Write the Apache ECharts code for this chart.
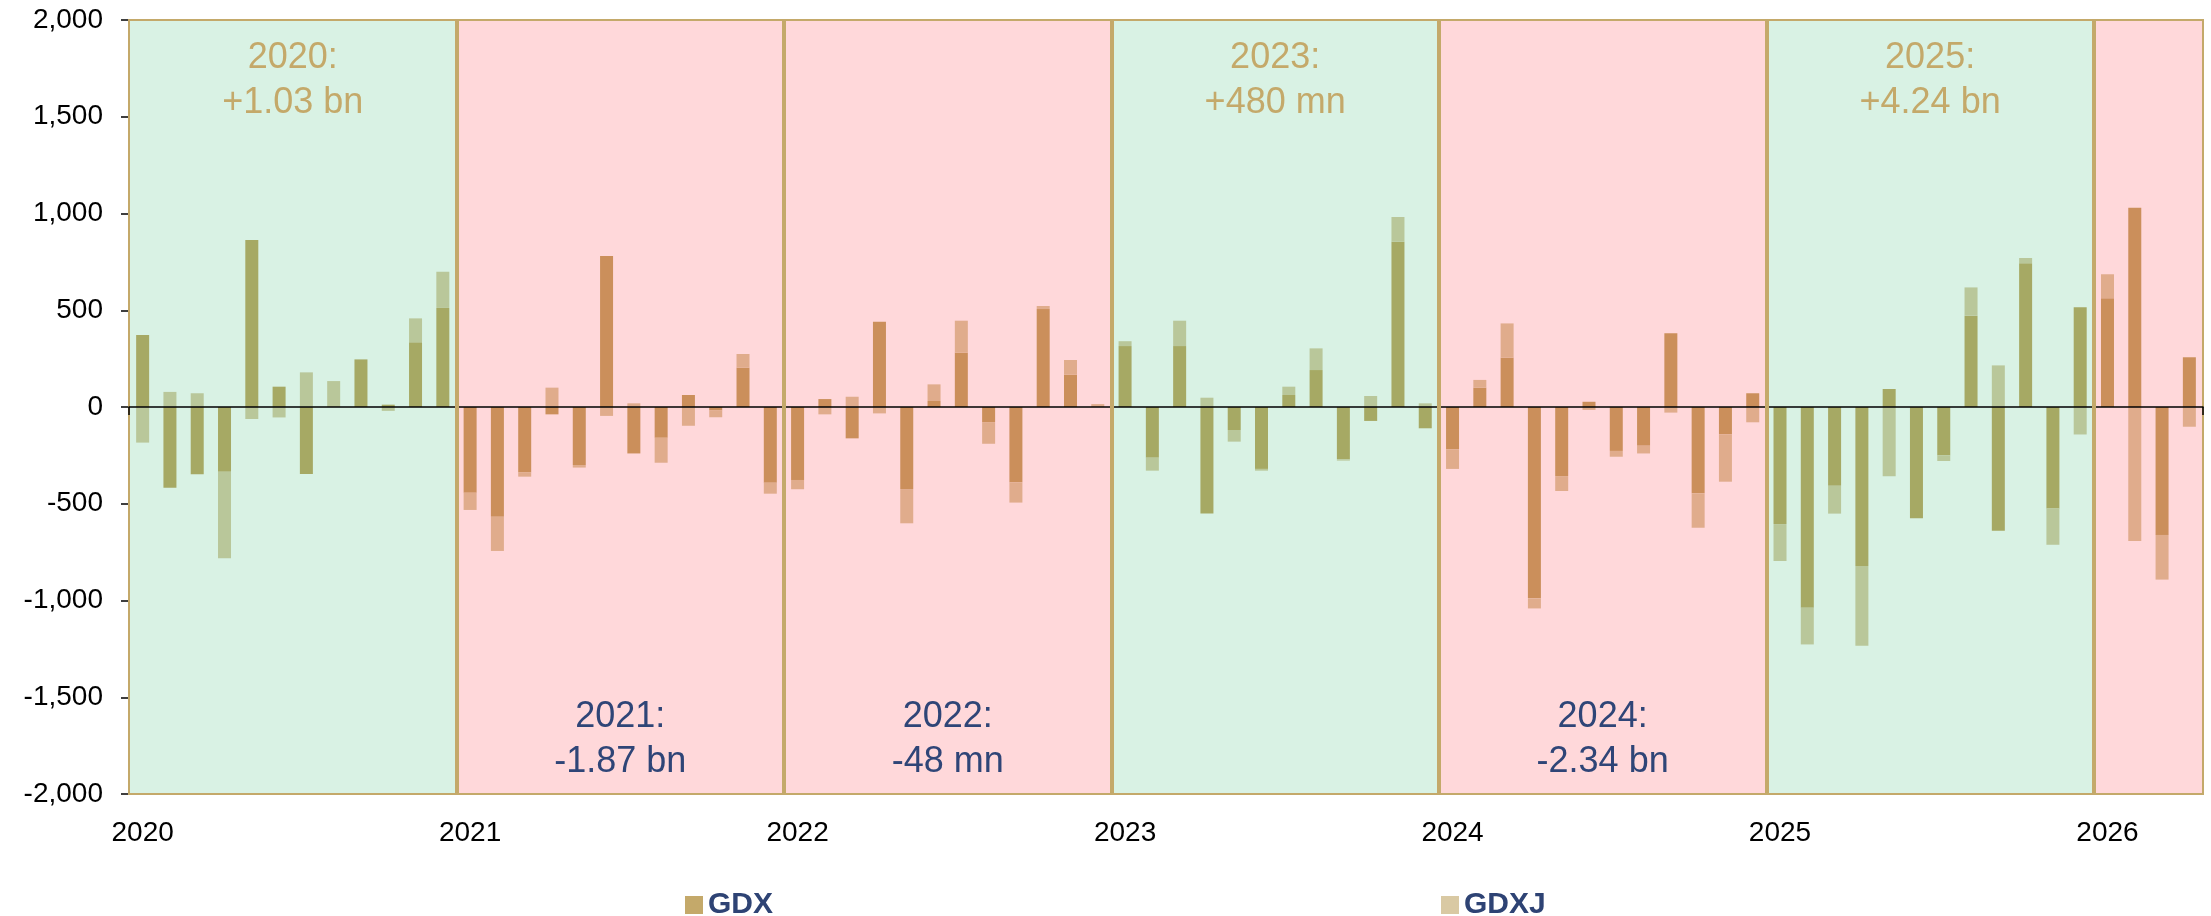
<!DOCTYPE html>
<html>
<head>
<meta charset="utf-8">
<script src="https://cdn.jsdelivr.net/npm/echarts@6/dist/echarts.min.js"></script>
<style>
  html, body { margin: 0; padding: 0; background: #fff; }
  #chart { width: 2211px; height: 916px; }
</style>
</head>
<body>
<div id="chart"></div>
<script>
// years shown, their tone (inflow/outflow colouring) and the year notes
const years = [2020, 2021, 2022, 2023, 2024, 2025, 2026]
const monthsInYear = [12, 12, 12, 12, 12, 12, 4]
const yearTone = ['up', 'down', 'down', 'up', 'down', 'up', 'down']
const yearNotes = ['2020:\n+1.03 bn', '2021:\n-1.87 bn', '2022:\n-48 mn', '2023:\n+480 mn', '2024:\n-2.34 bn', '2025:\n+4.24 bn', '']
const monthNames = ['Jan', 'Feb', 'Mar', 'Apr', 'May', 'Jun', 'Jul', 'Aug', 'Sep', 'Oct', 'Nov', 'Dec']

// monthly flows, USD mn
const gdx = [
  372, -417, -348, -334, 863, 105, -346, 0, 246, 12, 334, 512, // 2020
  -443, -567, -339, -38, -300, 780, -240, -159, 62, -18, 203, -391, // 2021
  -377, 41, -162, 441, -424, 31, 281, -78, -389, 506, 167, 0, // 2022
  315, -262, 315, -550, -119, -320, 62, 191, -270, -72, 854, -110, // 2023
  -219, 100, 255, -989, -357, 27, -227, -200, 381, -446, -141, 71, // 2024
  -605, -1037, -407, -822, 93, -575, -250, 472, -639, 743, -524, 515, // 2025
  562, 1030, -661, 257 // 2026
]
const gdxj = [
  -184, 78, 71, -448, -62, -54, 179, 134, 0, -20, 124, 187,
  -89, -177, -21, 100, -13, -46, 19, -129, -97, -35, 71, -57,
  -48, -38, 53, -33, -177, 86, 165, -112, -105, 16, 76, 15,
  25, -67, 131, 48, -60, -9, 43, 112, -7, 57, 128, 19,
  -101, 40, 177, -52, -77, -15, -30, -40, -29, -178, -245, -79,
  -191, -190, -144, -412, -358, 0, -29, 146, 215, 27, -188, -142,
  124, -693, -231, -102
]

const months = []
const toneOfMonth = []
years.forEach((y, i) => {
  for (let m = 0; m < monthsInYear[i]; m++) {
    months.push(monthNames[m] + ' ' + y)
    toneOfMonth.push(yearTone[i])
  }
})

const colors = {
  up: { gdx: '#A6A964', gdxj: '#B9C79A', bg: '#D9F2E4', note: '#C4A96A' },
  down: { gdx: '#CB8F5B', gdxj: '#E0AC8C', bg: '#FFD8DA', note: '#2F4577' }
}

// one shaded rectangle per year, a thicker line between years
const areas = []
const yearLines = []
let start = 0
years.forEach((y, i) => {
  const tone = yearTone[i]
  const end = start + monthsInYear[i]
  areas.push([{
    name: yearNotes[i],
    xAxis: start,
    itemStyle: { color: colors[tone].bg, borderColor: '#C4A96A', borderWidth: 2 },
    label: {
      show: yearNotes[i] !== '',
      position: tone === 'up' ? 'insideTop' : 'insideBottom',
      distance: tone === 'up' ? 17 : 10,
      color: colors[tone].note,
      fontSize: 36,
      lineHeight: 45,
      align: 'center'
    }
  }, { xAxis: end }])
  if (i > 0) yearLines.push({ xAxis: start })
  start = end
})

const chart = echarts.init(document.getElementById('chart'))
const option = {
  animation: false,
  textStyle: { fontFamily: 'Liberation Sans, Arial, sans-serif' },
  grid: { left: 129, right: 8, top: 20, bottom: 122 },
  legend: [
    {
      data: [{ name: 'GDX', itemStyle: { color: '#C4A96A' } }],
      left: 680, top: 885, icon: 'rect', itemWidth: 18, itemHeight: 18,
      textStyle: { fontSize: 30, fontWeight: 'bold', color: '#2E4374' }
    },
    {
      data: [{ name: 'GDXJ', itemStyle: { color: '#D9C9A3' } }],
      left: 1436, top: 885, icon: 'rect', itemWidth: 18, itemHeight: 18,
      textStyle: { fontSize: 30, fontWeight: 'bold', color: '#2E4374' }
    }
  ],
  xAxis: [
    {
      type: 'category',
      data: months,
      position: 'bottom',
      axisLine: { show: false, onZero: false },
      axisTick: { show: false },
      axisLabel: {
        interval: (i) => i % 12 === 0,
        formatter: (v) => v.slice(-4),
        fontSize: 28,
        color: '#000',
        margin: 25
      }
    },
    {
      type: 'category',
      data: months,
      position: 'top',
      z: 5,
      axisLine: { onZero: true, lineStyle: { color: '#000', width: 1.5 } },
      axisTick: { show: true, inside: true, length: 8, interval: (i) => i % 12 === 0, lineStyle: { color: '#000', width: 1.5 } },
      axisLabel: { show: false }
    },
    { type: 'value', min: 0, max: 76, show: false }
  ],
  yAxis: {
    type: 'value',
    min: -2000,
    max: 2000,
    interval: 500,
    axisLine: { show: false },
    axisTick: { show: true, length: 8, lineStyle: { color: '#000', width: 1.5 } },
    splitLine: { show: false },
    axisLabel: {
      fontSize: 28,
      color: '#000',
      margin: 26,
      formatter: (v) => v.toLocaleString('en-US')
    }
  },
  series: [
    {
      name: 'years',
      type: 'line',
      xAxisIndex: 2,
      data: [],
      silent: true,
      z: 0,
      markArea: { silent: true, data: areas },
      markLine: {
        silent: true,
        z: 6,
        symbol: 'none',
        label: { show: false },
        lineStyle: { color: '#C4A96A', width: 4, type: 'solid' },
        data: yearLines
      }
    },
    {
      name: 'GDX',
      type: 'bar',
      stack: 'flow',
      barWidth: 13,
      data: gdx,
      itemStyle: { color: (p) => colors[toneOfMonth[p.dataIndex]].gdx }
    },
    {
      name: 'GDXJ',
      type: 'bar',
      stack: 'flow',
      barWidth: 13,
      data: gdxj,
      itemStyle: { color: (p) => colors[toneOfMonth[p.dataIndex]].gdxj }
    }
  ]
}
chart.setOption(option)
</script>
</body>
</html>
